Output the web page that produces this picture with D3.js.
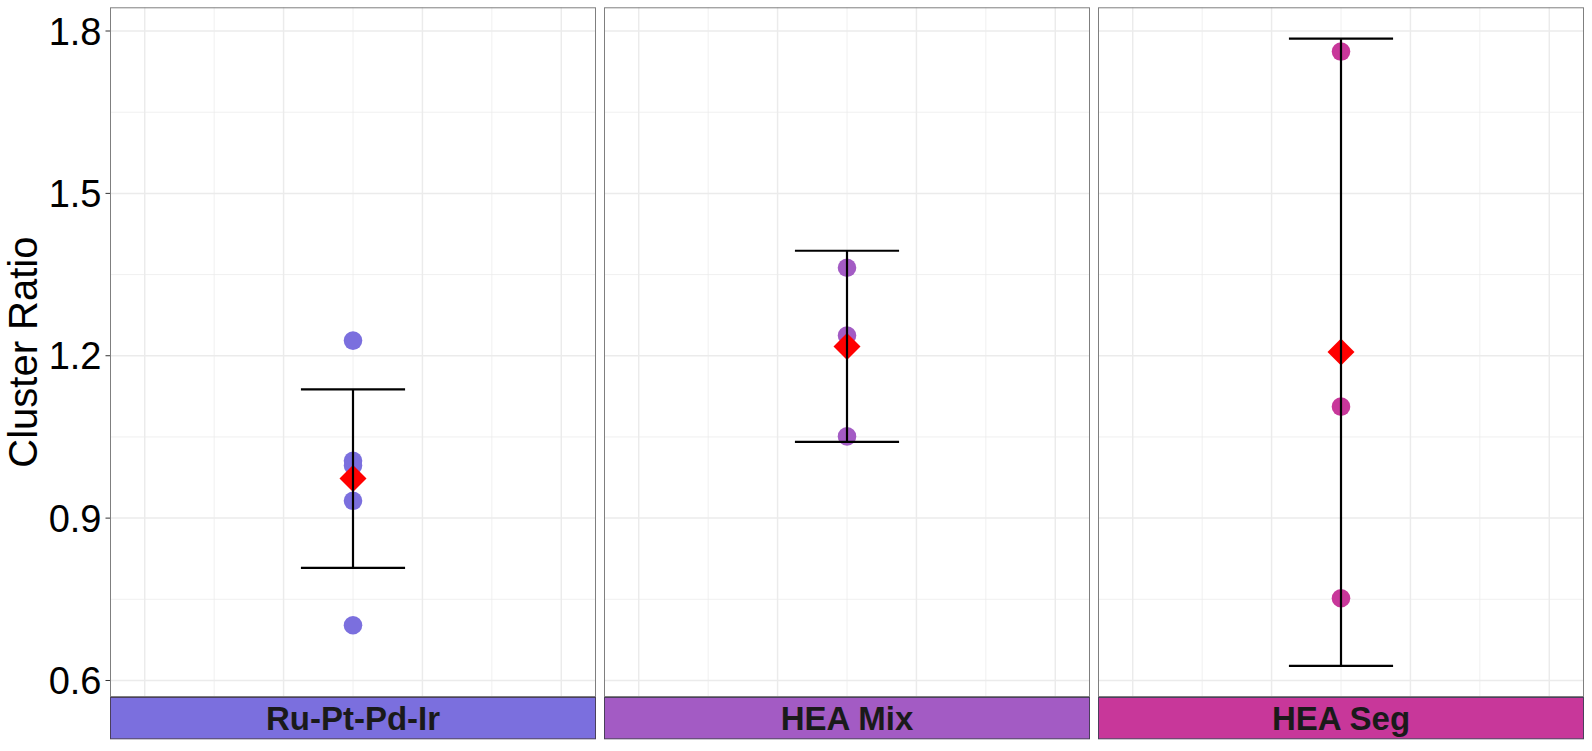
<!DOCTYPE html>
<html>
<head>
<meta charset="utf-8">
<script src="https://cdn.jsdelivr.net/npm/d3@7"></script>
<style>
  html, body { margin: 0; padding: 0; background: #fff; }
  svg { display: block; }
</style>
</head>
<body>
<svg id="chart" width="1592" height="751"></svg>
<script>
// ---- data ----
const panels = ["Ru-Pt-Pd-Ir", "HEA Mix", "HEA Seg"];
const pointsRu = [1.228, 1.006, 0.997, 0.932, 0.702];
const pointsMix = [1.3625, 1.2375, 1.051];
const pointsSeg = [1.762, 1.106, 0.752];
const meanValues = [0.973, 1.217, 1.207];
const errLow = [0.808, 1.041, 0.627];
const errHigh = [1.138, 1.394, 1.786];
const yTicks = [0.6, 0.9, 1.2, 1.5, 1.8];
const yMinor = [0.75, 1.05, 1.35, 1.65];
const panelColors = ["#7B6FDE", "#A35BC4", "#C8379A"];
const pointSets = [pointsRu, pointsMix, pointsSeg];

// ---- layout ----
const svg = d3.select("#chart");
const panelLeft = 110, panelW = 486, gap = 8;
const panelTop = 7.3, panelBottom = 697, stripBottom = 739.3;

const y = d3.scaleLinear().domain([0.5695, 1.8438]).range([panelBottom, panelTop]);
const gridX = [-3, -2, -1, 0, 1, 2, 3];

panels.forEach((name, i) => {
  const x0 = panelLeft + i * (panelW + gap);
  const x = d3.scaleLinear().domain([-3.5, 3.5]).range([x0, x0 + panelW]);
  const g = svg.append("g");

  // background
  g.append("rect").attr("x", x0).attr("y", panelTop)
    .attr("width", panelW).attr("height", panelBottom - panelTop).attr("fill", "#fff");

  // minor horizontal grid
  g.selectAll(".hmin").data(yMinor).join("line")
    .attr("x1", x0).attr("x2", x0 + panelW)
    .attr("y1", d => y(d)).attr("y2", d => y(d))
    .attr("stroke", "#ebebeb").attr("stroke-width", 0.75);
  // vertical grid
  g.selectAll(".vg").data(gridX).join("line")
    .attr("x1", d => x(d)).attr("x2", d => x(d))
    .attr("y1", panelTop).attr("y2", panelBottom)
    .attr("stroke", "#ebebeb")
    .attr("stroke-width", d => Math.abs(d) % 2 === 1 ? 1.5 : 0.75);
  // major horizontal grid
  g.selectAll(".hmaj").data(yTicks).join("line")
    .attr("x1", x0).attr("x2", x0 + panelW)
    .attr("y1", d => y(d)).attr("y2", d => y(d))
    .attr("stroke", "#ebebeb").attr("stroke-width", 1.5);

  // points
  g.selectAll(".pt").data(pointSets[i]).join("circle")
    .attr("cx", x(0)).attr("cy", d => y(d)).attr("r", 9.3)
    .attr("fill", panelColors[i]);

  // mean diamond
  g.append("path")
    .attr("d", d3.symbol().type(d3.symbolSquare).size(365)())
    .attr("transform", `translate(${x(0)},${y(meanValues[i])}) rotate(45)`)
    .attr("fill", "#FF0000");

  // error bar
  const eb = g.append("g").attr("stroke", "#000").attr("stroke-width", 2.2).attr("fill", "none");
  eb.append("line").attr("x1", x(0)).attr("x2", x(0))
    .attr("y1", y(errLow[i])).attr("y2", y(errHigh[i]));
  [errLow[i], errHigh[i]].forEach(v => {
    eb.append("line").attr("x1", x(-0.75)).attr("x2", x(0.75))
      .attr("y1", y(v)).attr("y2", y(v));
  });

  // panel border
  g.append("rect").attr("x", x0 + 0.5).attr("y", panelTop + 0.5)
    .attr("width", panelW - 1).attr("height", panelBottom - panelTop - 1)
    .attr("fill", "none").attr("stroke", "#7f7f7f").attr("stroke-width", 1);

  // strip
  g.append("rect").attr("x", x0 + 0.5).attr("y", panelBottom + 0.5)
    .attr("width", panelW - 1).attr("height", stripBottom - panelBottom - 1)
    .attr("fill", panelColors[i]).attr("stroke", "#4a3f5c").attr("stroke-width", 1);
  g.append("text")
    .attr("x", x0 + panelW / 2)
    .attr("y", (panelBottom + stripBottom) / 2 + 0.358 * 33)
    .attr("text-anchor", "middle")
    .attr("font-family", "Liberation Sans, Arial, sans-serif")
    .attr("font-weight", "bold").attr("font-size", 33)
    .attr("fill", "#1a1a1a")
    .text(name);
});

// y axis ticks and labels
const ax = svg.append("g");
ax.selectAll(".tk").data(yTicks).join("line")
  .attr("x1", panelLeft - 4.5).attr("x2", panelLeft)
  .attr("y1", d => y(d)).attr("y2", d => y(d))
  .attr("stroke", "#333").attr("stroke-width", 1);
ax.selectAll(".tl").data(yTicks).join("text")
  .attr("x", panelLeft - 8.5)
  .attr("y", d => y(d) + 0.358 * 38)
  .attr("text-anchor", "end")
  .attr("font-family", "Liberation Sans, Arial, sans-serif")
  .attr("font-size", 38).attr("fill", "#000")
  .text(d => d3.format(".1f")(d));

// y axis title
svg.append("text")
  .attr("transform", `translate(37,${(panelTop + panelBottom) / 2}) rotate(-90)`)
  .attr("text-anchor", "middle")
  .attr("font-family", "Liberation Sans, Arial, sans-serif")
  .attr("font-size", 40).attr("fill", "#000")
  .text("Cluster Ratio");
</script>
</body>
</html>
